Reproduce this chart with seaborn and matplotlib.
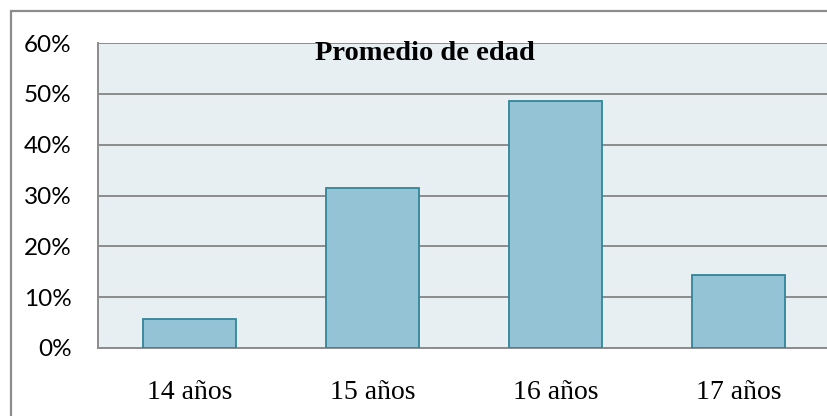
import matplotlib
matplotlib.use("Agg")
import matplotlib.pyplot as plt
import matplotlib.patches as mpatches
from matplotlib.ticker import FuncFormatter
import seaborn as sns
import pandas as pd

categories = ["14 años", "15 años", "16 años", "17 años"]
values = [5.7, 31.4, 48.6, 14.3]
yticks = [0, 10, 20, 30, 40, 50, 60]
title = "Promedio de edad"

df = pd.DataFrame({"edad": categories, "pct": values})

sns.set_style("white")
plt.rcParams["text.color"] = "black"
plt.rcParams["xtick.color"] = "black"
plt.rcParams["ytick.color"] = "black"
fig = plt.figure(figsize=(8.27, 4.16), dpi=100)
fig.patch.set_facecolor("white")

# outer chart frame
frame = mpatches.Rectangle((11 / 827, -0.05), 1.2, 1 - 11 / 416 + 0.05,
                           transform=fig.transFigure, fill=False,
                           edgecolor="#8c8c8c", linewidth=1.6, zorder=0)
fig.patches.append(frame)

ax = fig.add_axes([98 / 827, 1 - 348 / 416, (830 - 98) / 827, (348 - 43) / 416])
ax.set_facecolor("#e8eff3")

sns.barplot(data=df, x="edad", y="pct", ax=ax, color="#93c3d5",
            edgecolor="#31849b", linewidth=1.3, width=0.505,
            saturation=1, zorder=3)

ax.set_ylim(0, 60)
ax.set_xlim(-0.5, 3.5)
ax.set_yticks(yticks)
ax.yaxis.set_major_formatter(FuncFormatter(lambda v, p: f"{int(v)}%"))
ax.grid(axis="y", color="#8c8c8c", linewidth=1.4, zorder=1)
ax.grid(axis="x", visible=False)
ax.set_axisbelow(True)
ax.set_xlabel("")
ax.set_ylabel("")

for s in ["top", "right"]:
    ax.spines[s].set_visible(False)
for s in ["left", "bottom"]:
    ax.spines[s].set_color("#8c8c8c")
    ax.spines[s].set_linewidth(1.4)

ax.tick_params(axis="both", length=0, labelcolor="black")
ax.tick_params(axis="y", pad=19)
ax.tick_params(axis="x", pad=23)
for lab in ax.get_yticklabels():
    lab.set_fontfamily("Lato")
    lab.set_fontsize(17.5)
    lab.set_color("black")
for lab in ax.get_xticklabels():
    lab.set_fontfamily("Liberation Serif")
    lab.set_fontsize(20)
    lab.set_color("black")

fig.text(424.5 / 827, 1 - 60 / 416, title, ha="center", va="baseline",
         fontfamily="Liberation Serif", fontweight="bold", fontsize=20.5,
         color="black", zorder=5)

fig.savefig("out.png", dpi=100, facecolor="white")
